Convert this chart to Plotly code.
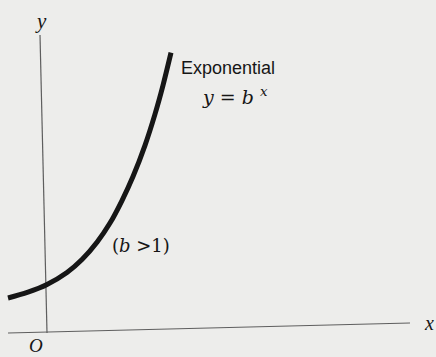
import plotly.graph_objects as go

# Exponential curve y = b^x (b > 1), sampled points along the drawn curve
curve_x = [-0.925, -0.425, 0.05, 0.55, 0.925, 1.3, 1.625, 1.925, 2.2, 2.5, 2.75, 2.95, 3.15]
curve_y = [0.73, 0.85, 1.01, 1.26, 1.53, 1.89, 2.29, 2.76, 3.26, 3.91, 4.56, 5.16, 5.84]

W, H = 436, 357
X0, Y0 = 45, 333          # pixel location of the origin
SX, SY = 40, 48           # pixels per unit on each axis


def dx(p):
    return (p - X0) / SX


def dy(p):
    return (Y0 - p) / SY


BG = "#ededeb"
INK = "#161616"
SERIF = "DejaVu Serif, Liberation Serif, serif"
TIMES = "Liberation Serif, Times New Roman, serif"
SANS = "Liberation Sans, Arial, sans-serif"

fig = go.Figure()

fig.add_trace(go.Scatter(
    x=curve_x, y=curve_y, mode="lines",
    line=dict(color=INK, width=5, shape="spline", smoothing=1.0),
    hoverinfo="skip", showlegend=False,
))

# coordinate axes (thin gray rules)
axis_style = dict(color="#5e5e5e", width=1.2)
fig.add_shape(type="line", x0=dx(8), y0=dy(333), x1=dx(410), y1=dy(323),
              line=axis_style, layer="below")
fig.add_shape(type="line", x0=dx(40), y0=dy(35), x1=dx(47), y1=dy(333),
              line=axis_style, layer="below")

labels = [
    ("<i>y</i>", 41, 21, TIMES, 21),
    ("<i>x</i>", 429, 323, TIMES, 20),
    ("<i>O</i>", 36, 345, TIMES, 19),
    ("Exponential", 228, 68, SANS, 18),
    ("<i>y</i> = <i>b</i> <sup><i>x</i></sup>", 235, 96, SERIF, 19),
    ("(<i>b</i> >1)", 141, 245, SERIF, 18),
]
for text, px_, py_, fam, size in labels:
    fig.add_annotation(x=dx(px_), y=dy(py_), text=text, showarrow=False,
                       font=dict(family=fam, size=size, color=INK),
                       xanchor="center", yanchor="middle", borderpad=0)

fig.update_xaxes(range=[dx(0), dx(W)], visible=False, fixedrange=True)
fig.update_yaxes(range=[dy(H), dy(0)], visible=False, fixedrange=True)
fig.update_layout(
    width=W, height=H,
    margin=dict(l=0, r=0, t=0, b=0),
    paper_bgcolor=BG, plot_bgcolor=BG,
    showlegend=False,
)

fig.write_html("out.html")
